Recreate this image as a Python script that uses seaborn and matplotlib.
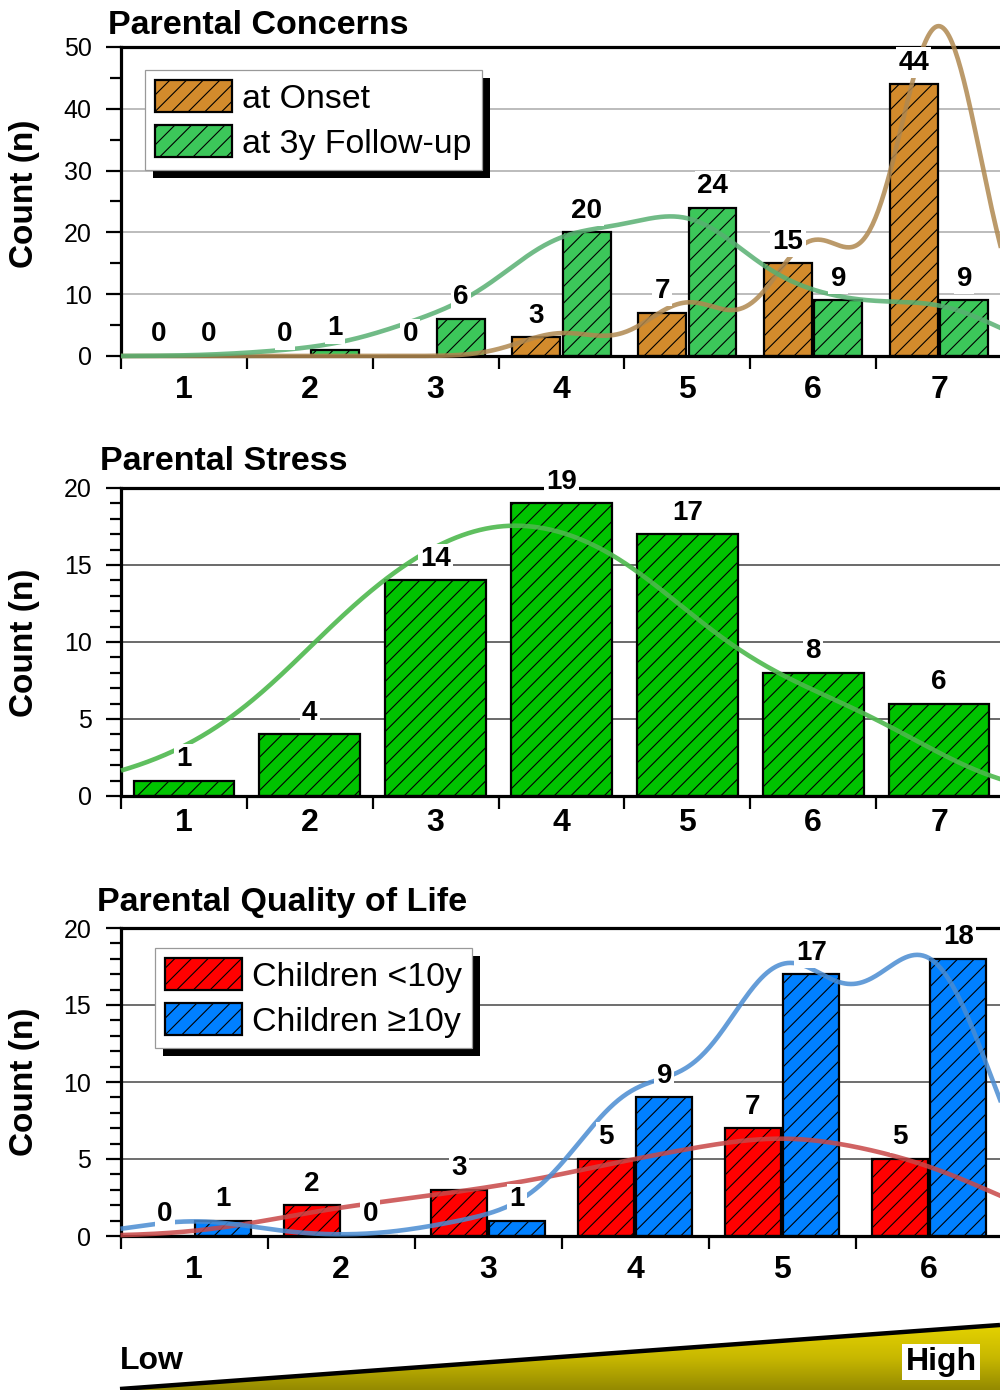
import numpy as np
import pandas as pd
import matplotlib
matplotlib.use("Agg")
import matplotlib.pyplot as plt
import seaborn as sns
from matplotlib.patches import Patch, Rectangle, Polygon
from matplotlib.ticker import MultipleLocator, FixedLocator
import matplotlib.transforms as mtrans
from matplotlib.colors import LinearSegmentedColormap

plt.rcParams['font.family'] = ['Liberation Sans', 'DejaVu Sans']
plt.rcParams['hatch.linewidth'] = 0.8
plt.rcParams['hatch.color'] = 'black'

# ---------------- data ----------------
concern_scores = ['1', '2', '3', '4', '5', '6', '7']
concern_onset = [0, 0, 0, 3, 7, 15, 44]
concern_followup = [0, 1, 6, 20, 24, 9, 9]
concern_groups = ['at Onset', 'at 3y Follow-up']

stress_scores = ['1', '2', '3', '4', '5', '6', '7']
stress_counts = [1, 4, 14, 19, 17, 8, 6]

qol_scores = ['1', '2', '3', '4', '5', '6']
qol_young = [0, 2, 3, 5, 7, 5]
qol_old = [1, 0, 1, 9, 17, 18]
qol_groups = ['Children <10y', 'Children \u226510y']

titles = ['Parental Concerns', 'Parental Stress', 'Parental Quality of Life']
ylabel = 'Count (n)'

W, H = 1000, 1390
fig = plt.figure(figsize=(W / 100, H / 100), dpi=100)


def fx(px):
    return px / W


def fy(py):
    return 1 - py / H


def kde_counts(xg, positions, counts, bw):
    xg = np.asarray(xg)[:, None]
    p = np.asarray(positions, float)[None, :]
    c = np.asarray(counts, float)[None, :]
    return (c * np.exp(-0.5 * ((xg - p) / bw) ** 2) / (bw * np.sqrt(2 * np.pi))).sum(axis=1)


def style_axes(ax, n, ymax, major, minor, grid_color, xpad):
    ax.set_xlim(-0.5, n - 0.5)
    ax.set_ylim(0, ymax)
    ax.set_xlabel('')
    ax.set_ylabel('')
    ax.yaxis.set_major_locator(MultipleLocator(major))
    ax.yaxis.set_minor_locator(MultipleLocator(minor))
    ax.xaxis.set_minor_locator(FixedLocator(np.arange(-0.5, n, 1.0)))
    ax.tick_params(axis='x', which='major', length=0, pad=xpad, labelsize=23)
    ax.tick_params(axis='x', which='minor', length=9, width=1.6, direction='out', color='black')
    ax.tick_params(axis='y', which='major', length=11, width=1.6, direction='out', labelsize=18, pad=10, color='black')
    ax.tick_params(axis='y', which='minor', length=8, width=1.6, direction='out', color='black')
    for lab in ax.get_xticklabels():
        lab.set_fontweight('bold')
    for s in ['left', 'bottom', 'top']:
        ax.spines[s].set_color('black')
        ax.spines[s].set_linewidth(2.3)
    ax.spines['right'].set_visible(False)
    ax.set_axisbelow(True)
    ax.yaxis.grid(True, which='major', color=grid_color, lw=1.2)
    ax.xaxis.grid(False)
    ax.set_facecolor('white')


def label_bars(ax):
    for cont in ax.containers:
        for bar in cont:
            h = bar.get_height()
            ax.annotate(f'{int(round(h))}', (bar.get_x() + bar.get_width() / 2, h),
                        xytext=(0, 15.5), textcoords='offset points',
                        ha='center', va='center', fontsize=20, fontweight='bold',
                        bbox=dict(boxstyle='square,pad=0.08', fc='white', ec='none'),
                        zorder=6, annotation_clip=False)


def hatch_bars(ax):
    for p in ax.patches:
        p.set_hatch('//')


def add_legend(ax, labels, colors, anchor):
    handles = [Patch(facecolor=c, edgecolor='black', hatch='//', lw=1.6, label=l)
               for l, c in zip(labels, colors)]
    leg = ax.legend(handles=handles, loc='upper left', bbox_to_anchor=anchor,
                    bbox_transform=fig.transFigure, borderaxespad=0,
                    fontsize=24.4, frameon=True, fancybox=False, framealpha=1,
                    edgecolor='#999999', handlelength=2.27, handleheight=1.09,
                    handletextpad=0.3, borderpad=0.3, labelspacing=0.3)
    leg.get_frame().set_linewidth(0.9)
    leg.set_zorder(7)
    return leg


# ---------------- panel 1: Parental Concerns ----------------
c_onset, c_follow = '#D38B2C', '#3CC75A'
ax1 = fig.add_axes([fx(121), fy(356), fx(881), (356 - 47) / H])
df1 = pd.DataFrame({'score': concern_scores * 2,
                    'count': concern_onset + concern_followup,
                    'group': [concern_groups[0]] * 7 + [concern_groups[1]] * 7})
sns.barplot(data=df1, x='score', y='count', hue='group', palette=[c_onset, c_follow],
            saturation=1, width=0.8, gap=0.05, edgecolor='black', linewidth=1.6,
            errorbar=None, legend=False, ax=ax1, zorder=2)
hatch_bars(ax1)
style_axes(ax1, 7, 50, 10, 5, '#b0b0b0', 13.5)
xg = np.linspace(-0.5, 6.5, 600)
idx7 = np.arange(7)
ax1.plot(xg, kde_counts(xg, idx7, concern_onset, 0.33), color='#B08850', lw=3.3, alpha=0.85,
         zorder=3, clip_on=False, solid_capstyle='butt')
ax1.plot(xg, kde_counts(xg, idx7, concern_followup, 0.5), color='#58B072', lw=3.3, alpha=0.85,
         zorder=3, clip_on=False, solid_capstyle='butt')
label_bars(ax1)
leg1 = add_legend(ax1, concern_groups, [c_onset, c_follow], (fx(145), fy(70)))

# ---------------- panel 2: Parental Stress ----------------
c_stress = '#00C300'
ax2 = fig.add_axes([fx(121), fy(796), fx(881), (796 - 488) / H])
df2 = pd.DataFrame({'score': stress_scores, 'count': stress_counts})
sns.barplot(data=df2, x='score', y='count', color=c_stress, saturation=1, width=0.8,
            edgecolor='black', linewidth=1.6, errorbar=None, ax=ax2, zorder=2)
hatch_bars(ax2)
style_axes(ax2, 7, 20, 5, 1, '#505050', 8.5)
ax2.plot(xg, kde_counts(xg, idx7 - 0.57, stress_counts, 0.68), color='#4DB84D', lw=3.3,
         alpha=0.9, zorder=3, clip_on=False, solid_capstyle='butt')
label_bars(ax2)

# ---------------- panel 3: Parental Quality of Life ----------------
c_young, c_old = '#FF0000', '#0080FF'
ax3 = fig.add_axes([fx(120.5), fy(1236), fx(882), (1236 - 928) / H])
df3 = pd.DataFrame({'score': qol_scores * 2,
                    'count': qol_young + qol_old,
                    'group': [qol_groups[0]] * 6 + [qol_groups[1]] * 6})
sns.barplot(data=df3, x='score', y='count', hue='group', palette=[c_young, c_old],
            saturation=1, width=0.8, gap=0.05, edgecolor='black', linewidth=1.6,
            errorbar=None, legend=False, ax=ax3, zorder=2)
hatch_bars(ax3)
style_axes(ax3, 6, 20, 5, 1, '#555555', 13.5)
xg6 = np.linspace(-0.5, 5.5, 600)
idx6 = np.arange(6)
ax3.plot(xg6, kde_counts(xg6, idx6, qol_young, 0.6), color='#C84848', lw=3.3, alpha=0.85,
         zorder=3, clip_on=False, solid_capstyle='butt')
ax3.plot(xg6, kde_counts(xg6, idx6, qol_old, 0.42), color='#4A8CD2', lw=3.3, alpha=0.85,
         zorder=3, clip_on=False, solid_capstyle='butt')
label_bars(ax3)
leg3 = add_legend(ax3, qol_groups, [c_young, c_old], (fx(155), fy(948)))

# ---------------- titles & y labels ----------------
fig.text(fx(108), fy(25), titles[0], fontsize=24.5, fontweight='bold', ha='left', va='center')
fig.text(fx(100), fy(461), titles[1], fontsize=24.5, fontweight='bold', ha='left', va='center')
fig.text(fx(97), fy(902), titles[2], fontsize=24.5, fontweight='bold', ha='left', va='center')
for yc in (194, 643, 1082):
    fig.text(fx(25), fy(yc), ylabel, fontsize=24, fontweight='bold', rotation=90,
             ha='center', va='center')

# ---------------- legend shadows ----------------
fig.canvas.draw()
renderer = fig.canvas.get_renderer()
for ax, leg in ((ax1, leg1), (ax3, leg3)):
    bb = leg.get_frame().get_window_extent(renderer)
    off = 8
    bbf = mtrans.Bbox.from_extents(bb.x0 + off, bb.y0 - off, bb.x1 + off, bb.y1 - off)
    bbf = bbf.transformed(fig.transFigure.inverted())
    sh = Rectangle((bbf.x0, bbf.y0), bbf.width, bbf.height, transform=fig.transFigure,
                   facecolor='black', edgecolor='none', zorder=6.9, clip_on=False)
    ax.add_artist(sh)

# ---------------- Low -> High wedge ----------------
axw = fig.add_axes([0, 0, 1, 70 / H])
axw.set_xlim(0, W)
axw.set_ylim(H, H - 70)
axw.axis('off')
wedge_pts = [(120, 1390), (972, 1327), (1000, 1325), (1000, 1390)]
poly = Polygon(wedge_pts, closed=True, facecolor='none', edgecolor='none',
               transform=axw.transData)
axw.add_patch(poly)
cmap = LinearSegmentedColormap.from_list('wedge', ['#E4D200', '#C8B800', '#948A00'])
grad = np.linspace(0, 1, 100)[:, None]
im = axw.imshow(grad, cmap=cmap, extent=[120, 1000, 1390, 1325], aspect='auto',
                origin='upper', zorder=1)
im.set_clip_path(poly)
axw.add_patch(Polygon(wedge_pts, closed=True, facecolor='none', edgecolor='none',
                      hatch='//', lw=0, zorder=2))
axw.plot([120, 972, 1000], [1389, 1327, 1325], color='black', lw=3.2, zorder=3,
         solid_capstyle='butt', clip_on=False)
axw.text(120, 1361, 'Low', fontsize=23, fontweight='bold', ha='left', va='center', zorder=4)
axw.text(941, 1362, 'High', fontsize=23, fontweight='bold', ha='center', va='center', zorder=4,
         bbox=dict(boxstyle='square,pad=0.1', fc='white', ec='none'))

fig.savefig('out.png', dpi=100)
